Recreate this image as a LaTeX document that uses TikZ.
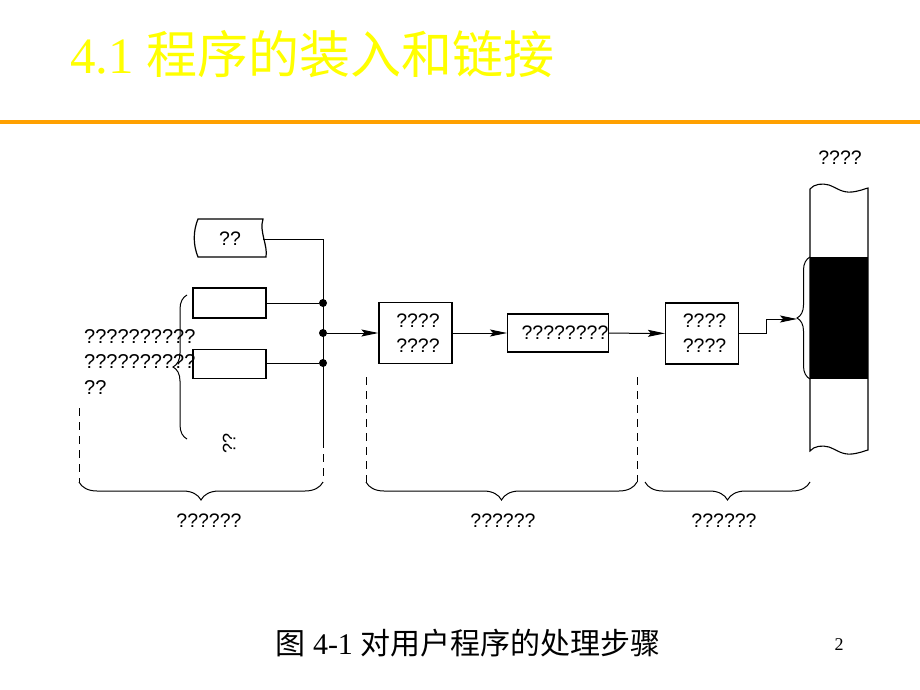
\documentclass[tikz,border=0pt]{standalone}
\usepackage{fontspec}
\setmainfont{Liberation Serif}
\setsansfont{Liberation Sans}
\newfontfamily\cjk{Noto Sans CJK SC}
\usetikzlibrary{arrows.meta,decorations.pathreplacing}
\definecolor{ttlyellow}{RGB}{255,255,0}
\definecolor{barorange}{RGB}{255,160,0}
\tikzset{
  q/.style={font=\sffamily\fontsize{19.5}{24}\selectfont, inner sep=0pt},
  boxq/.style={draw, line width=1.2pt, inner sep=0pt, align=center, font=\sffamily\fontsize{19.5}{25}\selectfont},
  conn/.style={line width=1pt},
  arr/.style={line width=1pt, -{Stealth[length=17pt,width=7pt,inset=3pt]}},
  jdot/.style={circle, fill=black, inner sep=0pt, minimum size=8pt},
  dashln/.style={line width=0.9pt, dash pattern=on 8pt off 6pt},
  bracedec/.style={line width=1pt, decorate, decoration={brace, amplitude=#1}},
}
\begin{document}
\begin{tikzpicture}[x=1pt,y=-1pt]
\useasboundingbox (0,0) rectangle (920,690);
% title
\node[anchor=west, text=ttlyellow, inner sep=0pt, font=\fontsize{51}{51}\selectfont] (title) at (70,54) {4.1 {\cjk 程序的装入和链接}};
\draw[barorange, line width=4pt] (0,122) -- (920,122);
% tape
\draw[line width=1.2pt] (198,219) -- (263,219) .. controls (259,232) and (268,245) .. (266,257) -- (198,257) .. controls (193,245) and (193,231) .. (198,219) -- cycle;
\node[q] (tape) at (230,239) {??};
\coordinate (tapeR) at (263,239);
% boxes left
\node[boxq, minimum width=73pt, minimum height=30pt] (r1) at (229.5,303) {};
\node[boxq, minimum width=73pt, minimum height=29pt] (r2) at (229.5,364) {};
% junctions
\coordinate (j0) at (323,239);
\node[jdot] (j1) at (323,303) {};
\node[jdot] (j2) at (323,333) {};
\node[jdot] (j3) at (323,363) {};
\coordinate (jbot) at (323,440);
\coordinate (jend) at (323,482);
\draw[conn] (tapeR) -- (j0) -- (jbot);
\draw[dashln] (jbot) -- (jend);
\draw[conn] (r1.east) -- (j1);
\draw[conn] (r2.east |- j3) -- (j3);
% left text
\node[q, anchor=west, align=left, font=\sffamily\fontsize{20}{25.5}\selectfont] (desc) at (84,362) {??????????\\??????????\\??};
\coordinate (lbA) at (187,439);
\coordinate (lbB) at (187,295);
\draw[bracedec=14pt] (lbA) -- (lbB);
\node[q, rotate=90, font=\sffamily\fontsize{18}{18}\selectfont] (rot) at (229,443) {??};
% process boxes
\node[boxq, minimum width=73pt, minimum height=61pt] (A) at (415.5,333) {\hspace{5pt}????\\\hspace{5pt}????};
\node[boxq, minimum width=100pt, minimum height=38pt] (B) at (558,333) {\hspace{14pt}????????};
\node[boxq, minimum width=73pt, minimum height=61pt] (C) at (702,333.5) {\hspace{5pt}????\\\hspace{5pt}????};
\draw[arr] (j2) -- (A);
\draw[arr] (A) -- (B);
\draw[arr] (B) -- (C);
% memory
\fill[black] (810,257) rectangle (868,379);
\draw[line width=1.1pt] (810,189) .. controls (814,184) and (822,183) .. (829,185) .. controls (837,188) and (842,193) .. (852,192) .. controls (860,191) and (864,189) .. (868,188) -- (868,450) .. controls (864,451) and (860,453) .. (852,454) .. controls (842,455) and (837,450) .. (829,447) .. controls (822,445) and (814,446) .. (810,451) -- cycle;
\node[q] (memlbl) at (840,158) {????};
\coordinate (mbA) at (810,379);
\coordinate (mbB) at (810,257);
\draw[bracedec=13pt] (mbA) -- (mbB);
\coordinate (memtip) at (797,319);
\coordinate (step1) at (766,333);
\draw[arr] (C.east |- step1) -- (step1) |- (memtip);
% dashed guides
\coordinate (d1t) at (79,408);
\coordinate (d1b) at (79,482);
\coordinate (d2t) at (366,377);
\coordinate (d2b) at (366,482);
\coordinate (d3t) at (637,377);
\coordinate (d3b) at (637,482);
\draw[dashln] (d1t) -- (d1b);
\draw[dashln] (d2t) -- (d2b);
\draw[dashln] (d3t) -- (d3b);
% bottom braces
\coordinate (b3l) at (645,482);
\coordinate (b3r) at (810,482);
\draw[bracedec=18pt] (jend) -- (d1b);
\draw[bracedec=18pt] (d3b) -- (d2b);
\draw[bracedec=18pt] (b3r) -- (b3l);
\node[q] (l1) at (209,521) {??????};
\node[q] (l2) at (503,521) {??????};
\node[q] (l3) at (724,521) {??????};
% caption
\node[inner sep=0pt, font=\fontsize{30}{30}\selectfont] (cap) at (468,643) {{\cjk 图} 4-1 {\cjk 对用户程序的处理步骤}};
\node[inner sep=0pt, font=\fontsize{18}{18}\selectfont] (pg) at (839,645) {2};
\end{tikzpicture}
\end{document}
